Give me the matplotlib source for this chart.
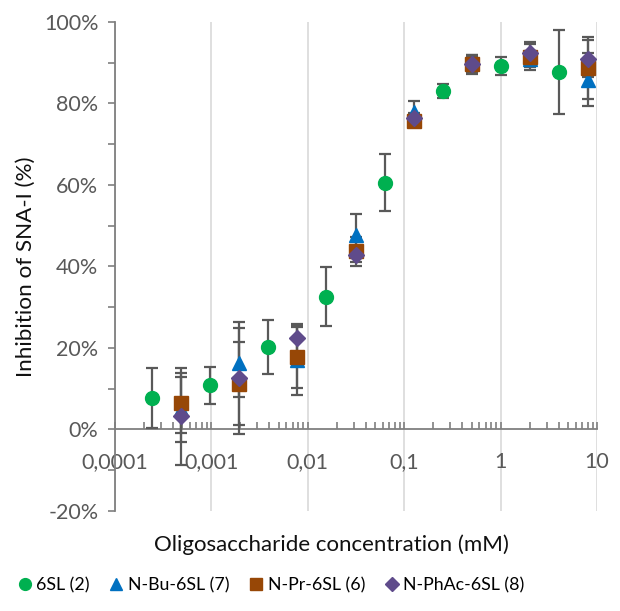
import matplotlib
matplotlib.use("Agg")
import matplotlib.pyplot as plt
from matplotlib.ticker import FixedLocator, FuncFormatter, MultipleLocator, LogLocator

plt.rcParams['font.family'] = ['Lato', 'DejaVu Sans']

# concentrations (mM)
conc_6sl = [0.000244, 0.000977, 0.0039, 0.0156, 0.0625, 0.25, 1, 4]
conc_mod = [0.000488, 0.00195, 0.0078, 0.03125, 0.125, 0.5, 2, 8]

# inhibition (%) and errors
inh_6sl = [7.7, 10.8, 20.2, 32.6, 60.6, 83.1, 89.1, 87.8]
err_6sl = [7.4, 4.6, 6.7, 7.3, 7.0, 1.8, 2.2, 10.3]

inh_bu = [5.0, 16.4, 17.0, 47.8, 78.0, 90.0, 91.0, 85.8]
err_bu = [8.0, 8.4, 8.5, 5.1, 2.6, 2.0, 2.0, 6.5]

inh_pr = [6.5, 11.2, 17.7, 43.7, 75.8, 89.6, 91.4, 88.7]
err_pr = [7.3, 10.2, 7.4, 3.5, 1.5, 2.4, 3.3, 7.7]

inh_ph = [3.2, 12.6, 22.5, 42.7, 76.5, 89.6, 92.4, 91.0]
err_ph = [11.8, 13.7, 3.5, 1.5, 1.2, 2.0, 2.6, 4.6]

series = [
    ("6SL (2)", conc_6sl, inh_6sl, err_6sl, "o", "#00B050", 10),
    ("N-Bu-6SL (7)", conc_mod, inh_bu, err_bu, "^", "#0070C0", 10),
    ("N-Pr-6SL (6)", conc_mod, inh_pr, err_pr, "s", "#974706", 10.5),
    ("N-PhAc-6SL (8)", conc_mod, inh_ph, err_ph, "D", "#5F4B8B", 8.5),
]

fig = plt.figure(figsize=(6.2, 6.11), dpi=100)
ax = fig.add_axes([0.1855, 0.1637, 0.7775, 0.8003])

ebar_col = "#595959"
for i, (name, x, y, e, m, c, ms) in enumerate(series):
    ax.errorbar(x, y, yerr=e, fmt="none", ecolor=ebar_col, elinewidth=1.6,
                capsize=4, capthick=1.6, zorder=3 + i)
    ax.plot(x, y, linestyle="none", marker=m, color=c, markersize=ms,
            label=name, zorder=10 + i)

ax.set_xscale("log")
ax.set_xlim(0.0001, 10)
ax.set_ylim(-20, 100)

# x axis sits on y = 0
ax.spines['bottom'].set_position(('data', 0))
ax.spines['top'].set_visible(False)
ax.spines['right'].set_visible(False)
for s in ['bottom', 'left']:
    ax.spines[s].set_color("#7f7f7f")
    ax.spines[s].set_linewidth(1.3)

decades = [0.0001, 0.001, 0.01, 0.1, 1, 10]
dec_labels = ["0,0001", "0,001", "0,01", "0,1", "1", "10"]
ax.xaxis.set_major_locator(FixedLocator(decades))
ax.set_xticklabels(dec_labels)
ax.xaxis.set_minor_locator(LogLocator(base=10, subs=range(2, 10)))
ax.xaxis.set_minor_formatter(FuncFormatter(lambda v, p: ""))
ax.tick_params(axis='x', which='both', direction='in', length=5, width=1.2,
               color="#7f7f7f", pad=16, labelsize=15.5, labelcolor="#595959")

ax.yaxis.set_major_locator(MultipleLocator(20))
ax.yaxis.set_minor_locator(MultipleLocator(10))
ax.yaxis.set_major_formatter(FuncFormatter(lambda v, p: f"{v:.0f}%"))
ax.tick_params(axis='y', which='both', direction='out', length=5, width=1.2,
               color="#7f7f7f", pad=7, labelsize=15.5, labelcolor="#595959")

ax.grid(axis='x', which='major', color="#D9D9D9", linewidth=1.2)
ax.set_axisbelow(True)

ax.set_ylabel("Inhibition of SNA-I (%)", fontsize=16.2, color="#111111", labelpad=6)
fig.text(0.535, 1 - 545 / 611, "Oligosaccharide concentration (mM)",
         ha="center", va="center", fontsize=16, color="#111111")

fig.legend(loc="center", bbox_to_anchor=(270 / 620, 1 - 585 / 611), ncol=4,
           frameon=False, fontsize=12.8, handletextpad=0.15, columnspacing=1.0,
           handlelength=1.0, markerscale=0.85)

fig.savefig("out.png", dpi=100)
